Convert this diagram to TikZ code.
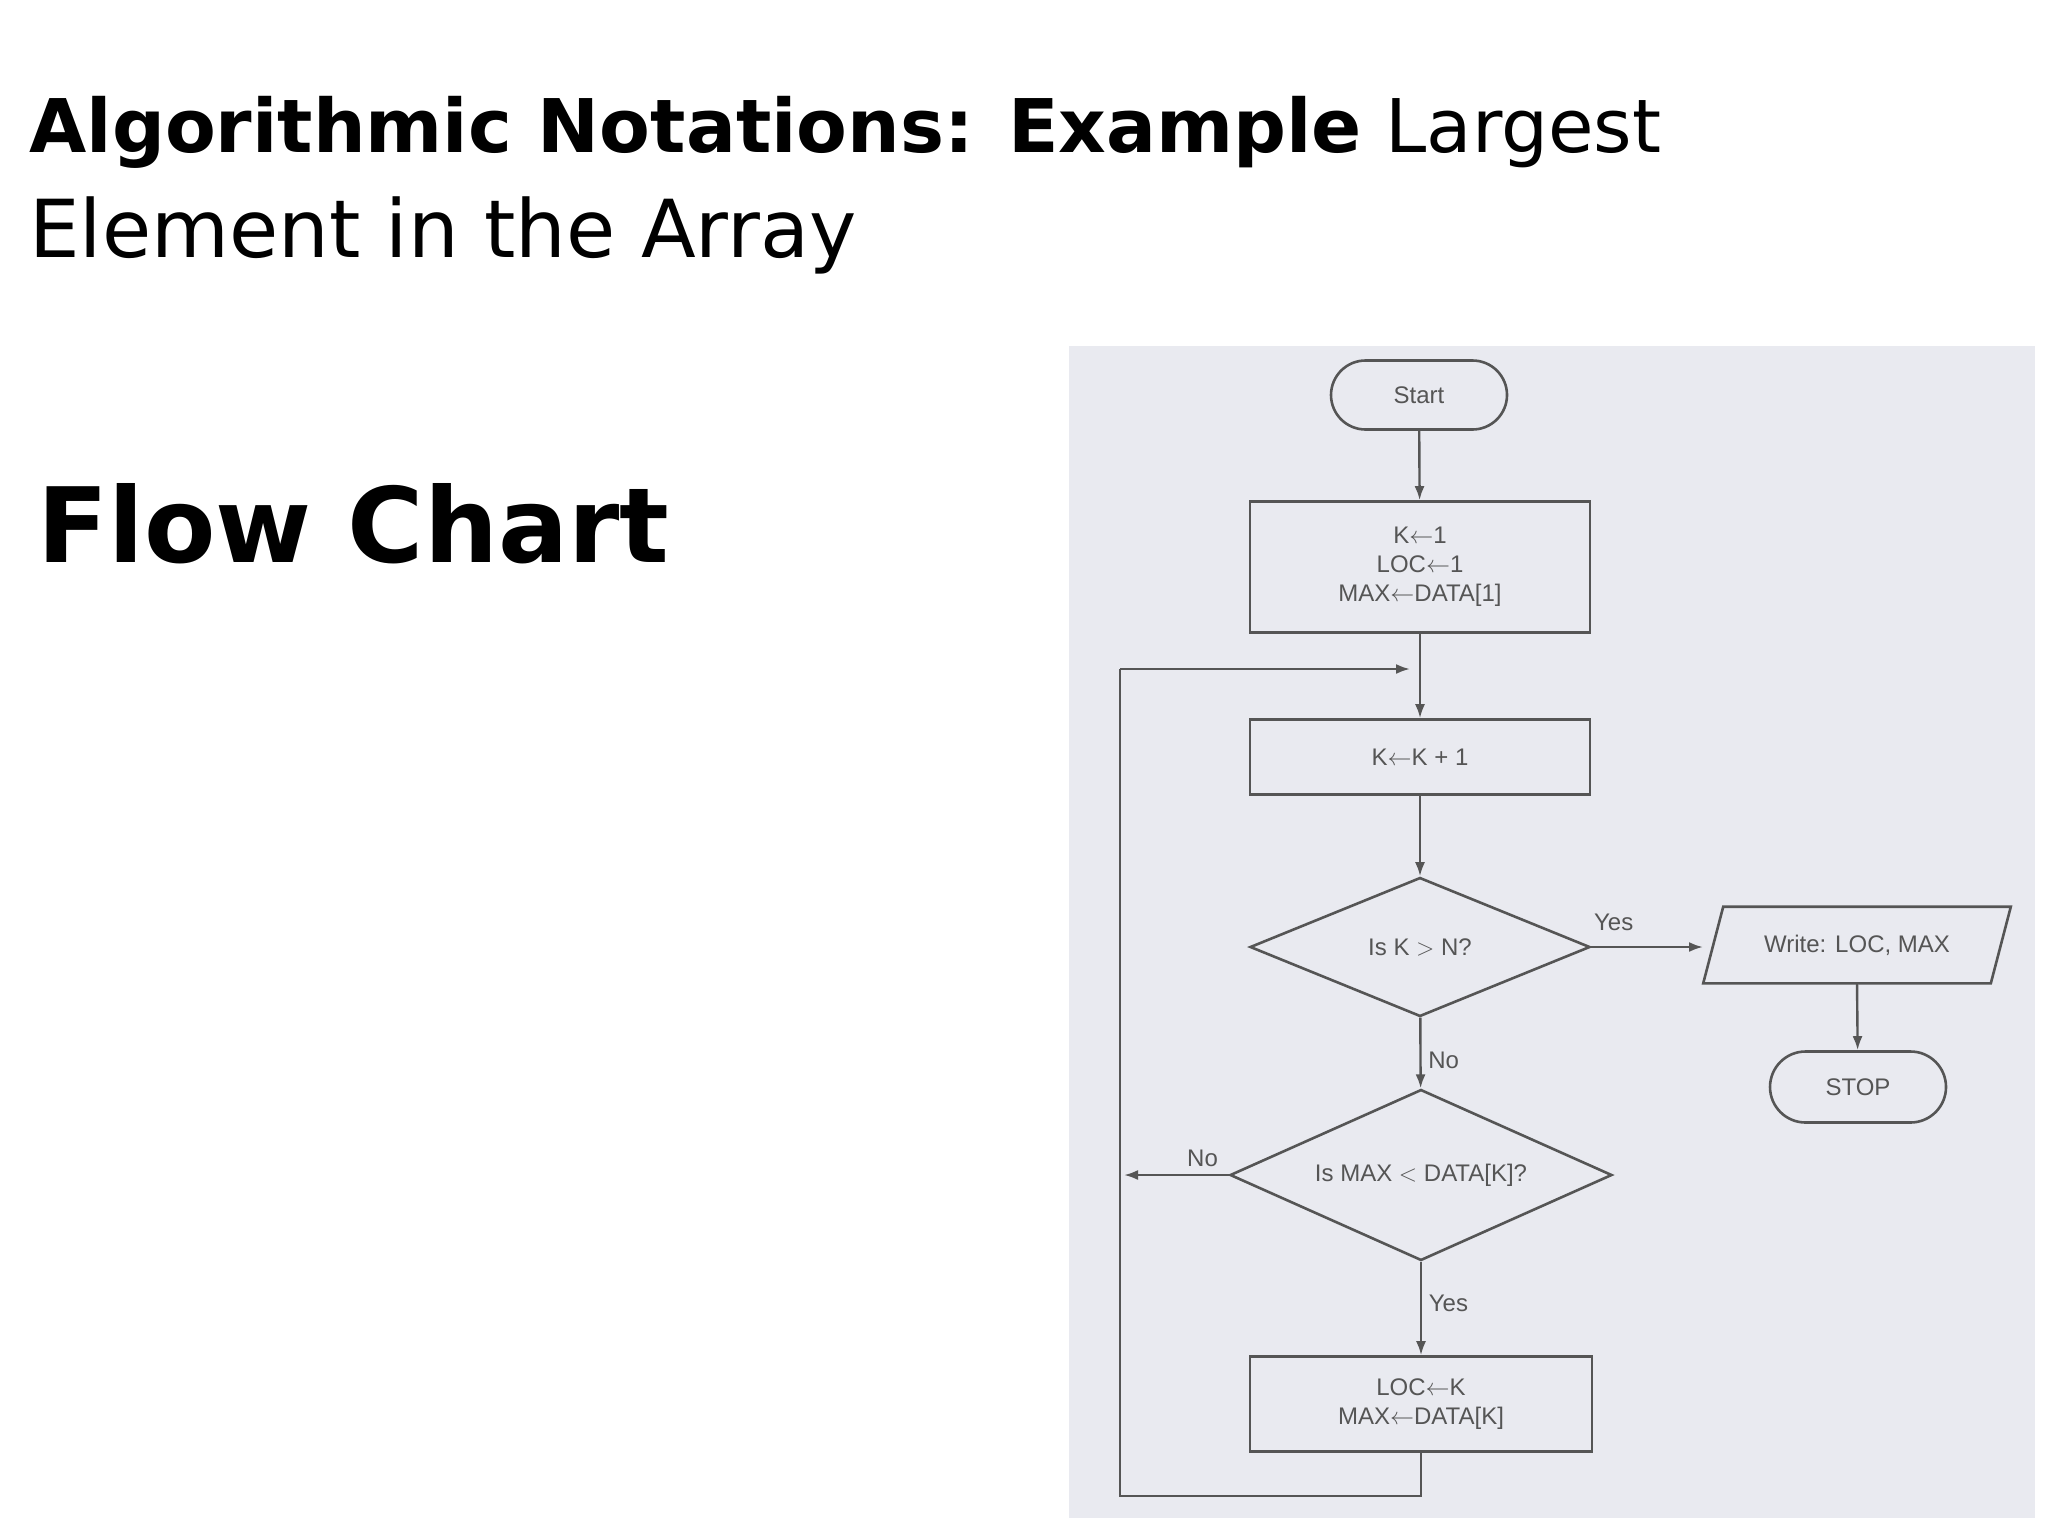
\documentclass[tikz,border=0pt]{standalone}
\usepackage{fontspec}
\setmainfont{DejaVu Sans}
\newfontfamily\fc{Liberation Sans}
\usetikzlibrary{shapes.geometric,shapes.misc,arrows.meta,calc}
\definecolor{panel}{HTML}{E9EAF0}
\definecolor{ink}{HTML}{555555}
\tikzset{
  fl/.style={draw=ink,line width=1.3pt,font=\fc\fontsize{12}{14.5}\selectfont,text=ink,inner sep=0pt,align=center},
  term/.style={fl,rounded rectangle},
  proc/.style={fl,rectangle},
  dec/.style={fl,diamond,aspect=2.4},
  arr/.style={draw=ink,line width=1.2pt,-{Latex[length=7pt,width=5pt]}},
  ln/.style={draw=ink,line width=1.2pt},
  lab/.style={font=\fc\fontsize{12}{14}\selectfont,text=ink}
}
\begin{document}
\begin{tikzpicture}[x=0.5pt,y=-0.5pt]
\useasboundingbox (0,0) rectangle (2048,1536);
\fill[white] (0,0) rectangle (2048,1536);
\fill[panel] (1069,346) rectangle (2035,1518);
\node[anchor=base west,inner sep=0pt,font=\fontsize{37}{44}\selectfont] (t1) at (29,152) {\textbf{Algorithmic Notations: Example} Largest};
\node[anchor=base west,inner sep=0pt,font=\fontsize{40}{48}\selectfont] (t2) at (29,257) {Element in the Array};
\node[anchor=base west,inner sep=0pt,font=\bfseries\fontsize{52}{62}\selectfont] (fc) at (37,562) {Flow Chart};

\node[term,minimum width=88pt,minimum height=34.5pt] (start) at (1419,395) {Start};
\node[proc,minimum width=170pt,minimum height=65.5pt] (b1) at (1420,567) {K$\leftarrow$1\\LOC$\leftarrow$1\\MAX$\leftarrow$DATA[1]};
\node[proc,minimum width=170pt,minimum height=37.5pt] (b2) at (1420,757) {K$\leftarrow$K + 1};
\node[dec,minimum width=170pt,minimum height=69.5pt] (d1) at (1420,947) {Is K $>$ N?};
\node[fl,draw=none,minimum width=142.5pt,minimum height=37pt] (w) at (1857,945) {Write: LOC, MAX};
\draw[ln,line width=1.3pt] ($(w.south west)+(-10,0)$) -- ($(w.north west)+(10,0)$) -- ($(w.north east)+(10,0)$) -- ($(w.south east)+(-10,0)$) -- cycle;
\node[term,minimum width=88pt,minimum height=35.5pt] (stop) at (1858,1087) {STOP};
\node[dec,minimum width=191pt,minimum height=85.5pt] (d2) at (1421,1175) {Is MAX $<$ DATA[K]?};
\node[proc,minimum width=171pt,minimum height=47.5pt] (b3) at (1421,1404) {LOC$\leftarrow$K\\MAX$\leftarrow$DATA[K]};

\coordinate (lb) at (1421,1496);
\coordinate (ll) at (1120,1496);
\coordinate (lt) at (1120,669);
\coordinate (lm) at (1410,669);
\coordinate (nl) at (1124,1175);
\coordinate (wl) at (1703,947);

\draw[arr] (start) -- (b1);
\draw[arr] (b1) -- (b2);
\draw[arr] (b2) -- (d1);
\draw[arr] (d1.east) -- node[lab,above,pos=0.2,yshift=4pt]{Yes} (wl);
\draw[arr] (d1) -- node[lab,right,pos=0.6]{No} (d2);
\draw[arr] (d2) -- node[lab,right,pos=0.45]{Yes} (b3);
\draw[arr] (w.south) -- (stop);
\draw[arr] (d2.west) -- node[lab,above,pos=0.25]{No} (nl);
\draw[ln] (b3) -- (lb) -- (ll) -- (lt);
\draw[arr] (lt) -- (lm);
\end{tikzpicture}
\end{document}
